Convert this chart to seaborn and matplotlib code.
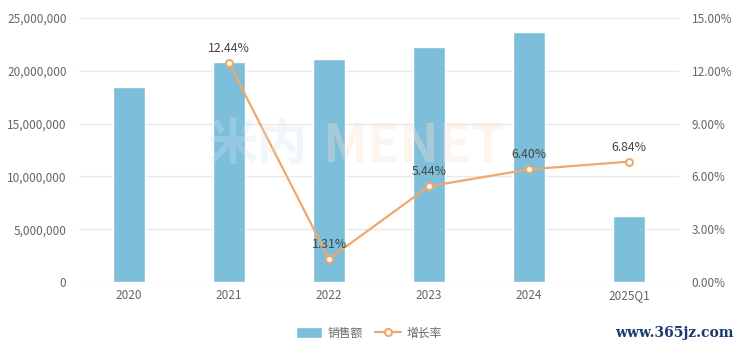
import numpy as np
import pandas as pd
import seaborn as sns
import matplotlib.pyplot as plt
from matplotlib.ticker import FuncFormatter, MultipleLocator

# データ
years = ['2020', '2021', '2022', '2023', '2024', '2025Q1']
sales = [18500000, 20850000, 21150000, 22250000, 23700000, 6250000]
growth_years = ['2021', '2022', '2023', '2024', '2025Q1']
growth = [12.44, 1.31, 5.44, 6.40, 6.84]

bar_color = '#7dbedb'
line_color = '#f0a86a'
text_color = '#666666'
grid_color = '#e9e9e9'

sns.set_theme(style='white')
plt.rcParams['font.family'] = ['Noto Sans CJK SC', 'DejaVu Sans']

fig = plt.figure(figsize=(7.39, 3.52), dpi=100)
ax = fig.add_axes([79 / 739, 70 / 352, 600 / 739, 264 / 352])

df = pd.DataFrame({'year': years, 'sales': sales})
sns.barplot(data=df, x='year', y='sales', color=bar_color, width=0.32,
            saturation=1, ax=ax, label='销售额', zorder=2)
ax.set_ylim(0, 25000000)
ax.yaxis.set_major_locator(MultipleLocator(5000000))
ax.yaxis.set_major_formatter(FuncFormatter(lambda v, p: f'{int(v):,}'))
ax.grid(axis='y', color=grid_color, linewidth=1, zorder=0)
ax.set_axisbelow(True)
ax.set_xlabel('')
ax.set_ylabel('')
ax.set_xlim(-0.5, len(years) - 0.5)

# 増長率
ax2 = ax.twinx()
gx = [years.index(y) for y in growth_years]
sns.lineplot(x=gx, y=growth, ax=ax2, color=line_color, linewidth=1.6,
             marker='o', markersize=5, markerfacecolor='white',
             markeredgecolor=line_color, markeredgewidth=1.5, label='增长率')
ax2.set_ylim(0, 15)
ax2.yaxis.set_major_locator(MultipleLocator(3))
ax2.yaxis.set_major_formatter(FuncFormatter(lambda v, p: f'{v:.2f}%'))
for x, v in zip(gx, growth):
    ax2.text(x, v + 0.45, f'{v:.2f}%', ha='center', va='bottom',
             fontsize=8.8, color='#444444')

for a in (ax, ax2):
    for s in a.spines.values():
        s.set_visible(False)
    a.tick_params(axis='both', length=0, labelsize=8.5, colors=text_color)
ax.tick_params(axis='y', pad=9)
ax2.tick_params(axis='y', pad=9)
ax.tick_params(axis='x', pad=5)

# 凡例
h1, l1 = ax.get_legend_handles_labels()
h2, l2 = ax2.get_legend_handles_labels()
if ax2.get_legend():
    ax2.get_legend().remove()
if ax.get_legend():
    ax.get_legend().remove()
fig.legend(h1 + h2, l1 + l2, loc='center', bbox_to_anchor=(369 / 739, 1 - 333 / 352),
           ncol=2, frameon=False, fontsize=8.5, labelcolor=text_color,
           handlelength=2.2, handleheight=1.0, columnspacing=1.0, handletextpad=0.5)

# ウォーターマーク
fig.text(258 / 739, 1 - 146 / 352, '米内', fontsize=36, fontweight='bold',
         color='#cfe3ee', alpha=0.3, ha='center', va='center', zorder=0)
fig.text(413 / 739, 1 - 146 / 352, 'MENET', fontsize=38, fontweight='bold',
         color='#fbe2cf', alpha=0.35, ha='center', va='center', zorder=0)
fig.text(674 / 739, 1 - 333 / 352, 'www.365jz.com', fontsize=10, fontweight='bold',
         color='#1a3a6e', ha='center', va='center', family='DejaVu Serif')

fig.savefig('out.png', dpi=100)
